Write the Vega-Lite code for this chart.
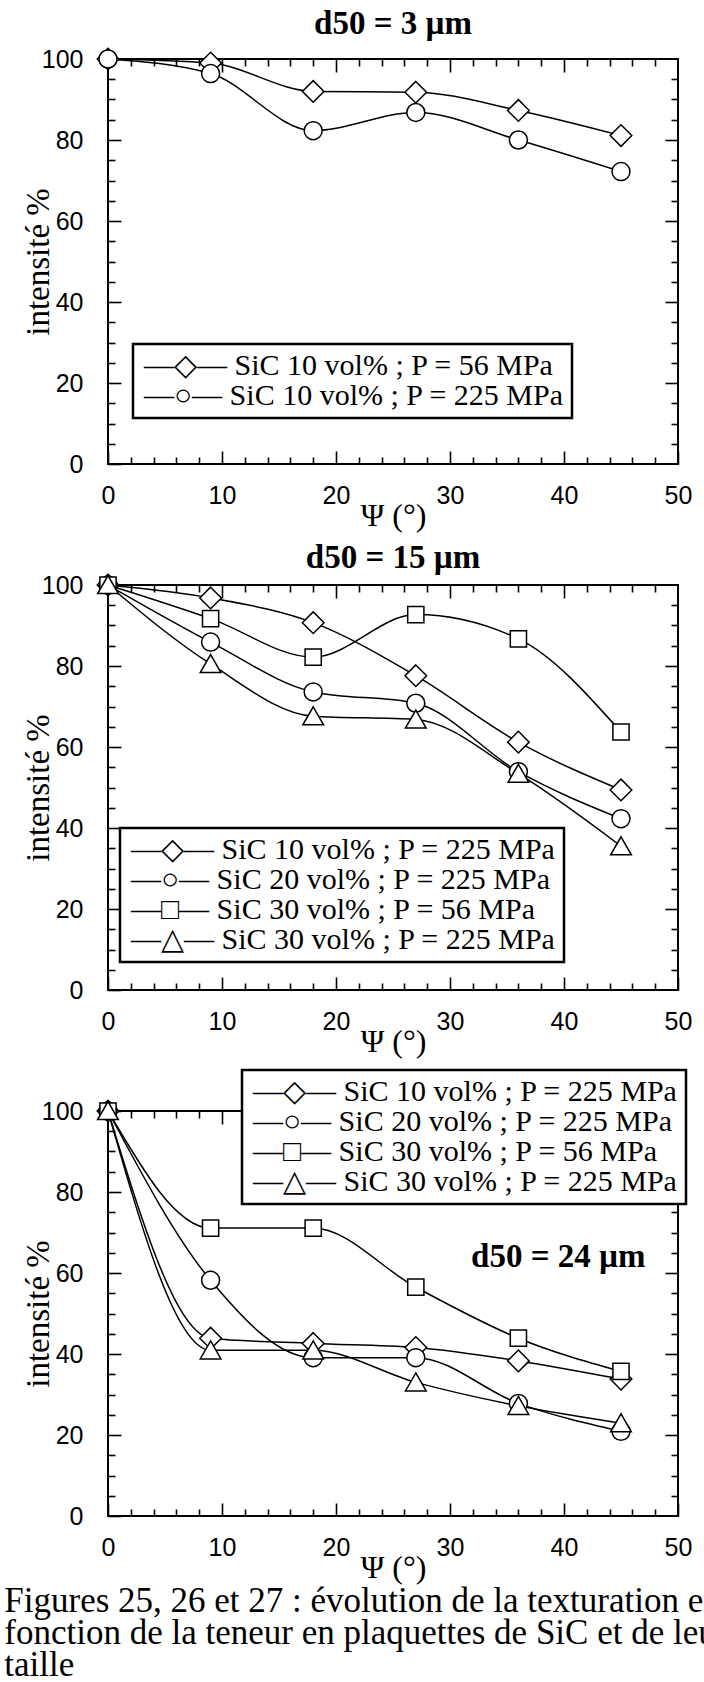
{
  "$schema": "https://vega.github.io/schema/vega-lite/v6.json",
  "background": "white",
  "padding": {"left": 4, "top": 7, "right": 0, "bottom": 0},
  "spacing": 121,
  "bounds": "flush",
  "resolve": {"scale": {"shape": "independent"}, "legend": {"shape": "independent"}},
  "datasets": {
    "p1": [
      {"psi": 0, "int": 100, "serie": "SiC 10 vol% ; P = 56 MPa"},
      {"psi": 9, "int": 99.0, "serie": "SiC 10 vol% ; P = 56 MPa"},
      {"psi": 18, "int": 92.0, "serie": "SiC 10 vol% ; P = 56 MPa"},
      {"psi": 27, "int": 91.8, "serie": "SiC 10 vol% ; P = 56 MPa"},
      {"psi": 36, "int": 87.3, "serie": "SiC 10 vol% ; P = 56 MPa"},
      {"psi": 45, "int": 81.1, "serie": "SiC 10 vol% ; P = 56 MPa"},
      {"psi": 0, "int": 100, "serie": "SiC 10 vol% ; P = 225 MPa"},
      {"psi": 9, "int": 96.4, "serie": "SiC 10 vol% ; P = 225 MPa"},
      {"psi": 18, "int": 82.3, "serie": "SiC 10 vol% ; P = 225 MPa"},
      {"psi": 27, "int": 86.8, "serie": "SiC 10 vol% ; P = 225 MPa"},
      {"psi": 36, "int": 80.0, "serie": "SiC 10 vol% ; P = 225 MPa"},
      {"psi": 45, "int": 72.2, "serie": "SiC 10 vol% ; P = 225 MPa"}
    ],
    "p2": [
      {"psi": 0, "int": 100, "serie": "SiC 10 vol% ; P = 225 MPa"},
      {"psi": 9, "int": 96.8, "serie": "SiC 10 vol% ; P = 225 MPa"},
      {"psi": 18, "int": 90.7, "serie": "SiC 10 vol% ; P = 225 MPa"},
      {"psi": 27, "int": 77.6, "serie": "SiC 10 vol% ; P = 225 MPa"},
      {"psi": 36, "int": 61.2, "serie": "SiC 10 vol% ; P = 225 MPa"},
      {"psi": 45, "int": 49.4, "serie": "SiC 10 vol% ; P = 225 MPa"},
      {"psi": 0, "int": 100, "serie": "SiC 20 vol% ; P = 225 MPa"},
      {"psi": 9, "int": 85.9, "serie": "SiC 20 vol% ; P = 225 MPa"},
      {"psi": 18, "int": 73.6, "serie": "SiC 20 vol% ; P = 225 MPa"},
      {"psi": 27, "int": 70.8, "serie": "SiC 20 vol% ; P = 225 MPa"},
      {"psi": 36, "int": 53.9, "serie": "SiC 20 vol% ; P = 225 MPa"},
      {"psi": 45, "int": 42.3, "serie": "SiC 20 vol% ; P = 225 MPa"},
      {"psi": 0, "int": 100, "serie": "SiC 30 vol% ; P = 56 MPa"},
      {"psi": 9, "int": 91.7, "serie": "SiC 30 vol% ; P = 56 MPa"},
      {"psi": 18, "int": 82.2, "serie": "SiC 30 vol% ; P = 56 MPa"},
      {"psi": 27, "int": 92.7, "serie": "SiC 30 vol% ; P = 56 MPa"},
      {"psi": 36, "int": 86.7, "serie": "SiC 30 vol% ; P = 56 MPa"},
      {"psi": 45, "int": 63.7, "serie": "SiC 30 vol% ; P = 56 MPa"},
      {"psi": 0, "int": 100, "serie": "SiC 30 vol% ; P = 225 MPa"},
      {"psi": 9, "int": 80.5, "serie": "SiC 30 vol% ; P = 225 MPa"},
      {"psi": 18, "int": 67.6, "serie": "SiC 30 vol% ; P = 225 MPa"},
      {"psi": 27, "int": 66.8, "serie": "SiC 30 vol% ; P = 225 MPa"},
      {"psi": 36, "int": 53.4, "serie": "SiC 30 vol% ; P = 225 MPa"},
      {"psi": 45, "int": 35.5, "serie": "SiC 30 vol% ; P = 225 MPa"}
    ],
    "p3": [
      {"psi": 0, "int": 100, "serie": "SiC 10 vol% ; P = 225 MPa"},
      {"psi": 9, "int": 43.9, "serie": "SiC 10 vol% ; P = 225 MPa"},
      {"psi": 18, "int": 42.6, "serie": "SiC 10 vol% ; P = 225 MPa"},
      {"psi": 27, "int": 41.6, "serie": "SiC 10 vol% ; P = 225 MPa"},
      {"psi": 36, "int": 38.3, "serie": "SiC 10 vol% ; P = 225 MPa"},
      {"psi": 45, "int": 33.8, "serie": "SiC 10 vol% ; P = 225 MPa"},
      {"psi": 0, "int": 100, "serie": "SiC 20 vol% ; P = 225 MPa"},
      {"psi": 9, "int": 58.2, "serie": "SiC 20 vol% ; P = 225 MPa"},
      {"psi": 18, "int": 39.1, "serie": "SiC 20 vol% ; P = 225 MPa"},
      {"psi": 27, "int": 39.1, "serie": "SiC 20 vol% ; P = 225 MPa"},
      {"psi": 36, "int": 27.8, "serie": "SiC 20 vol% ; P = 225 MPa"},
      {"psi": 45, "int": 20.9, "serie": "SiC 20 vol% ; P = 225 MPa"},
      {"psi": 0, "int": 100, "serie": "SiC 30 vol% ; P = 56 MPa"},
      {"psi": 9, "int": 71.1, "serie": "SiC 30 vol% ; P = 56 MPa"},
      {"psi": 18, "int": 71.1, "serie": "SiC 30 vol% ; P = 56 MPa"},
      {"psi": 27, "int": 56.5, "serie": "SiC 30 vol% ; P = 56 MPa"},
      {"psi": 36, "int": 43.9, "serie": "SiC 30 vol% ; P = 56 MPa"},
      {"psi": 45, "int": 35.7, "serie": "SiC 30 vol% ; P = 56 MPa"},
      {"psi": 0, "int": 100, "serie": "SiC 30 vol% ; P = 225 MPa"},
      {"psi": 9, "int": 40.9, "serie": "SiC 30 vol% ; P = 225 MPa"},
      {"psi": 18, "int": 40.9, "serie": "SiC 30 vol% ; P = 225 MPa"},
      {"psi": 27, "int": 33.0, "serie": "SiC 30 vol% ; P = 225 MPa"},
      {"psi": 36, "int": 27.2, "serie": "SiC 30 vol% ; P = 225 MPa"},
      {"psi": 45, "int": 22.9, "serie": "SiC 30 vol% ; P = 225 MPa"}
    ],
    "lab3": [{"label": "d50 = 24 µm"}]
  },
  "config": {
    "view": {"stroke": "black", "strokeWidth": 2},
    "axis": {
      "grid": false, "domain": false, "ticks": true, "zindex": 1,
      "labelFont": "Liberation Sans", "labelFontSize": 25, "labelColor": "black",
      "tickColor": "black", "tickWidth": 1.6, "tickOpacity": 1,
      "titleFont": "Liberation Serif", "titleFontWeight": "normal", "titleColor": "black",
      "labelFlush": false, "labelOverlap": false
    },
    "legend": {
      "orient": "none", "title": null,
      "labelFont": "Liberation Serif, DejaVu Sans", "labelFontSize": 30, "labelColor": "black", "labelLimit": 700,
      "strokeColor": "black", "strokeWidth": 2.5, "fillColor": "white",
      "padding": 7, "rowPadding": 0,
      "symbolSize": 324, "symbolOpacity": 0, "symbolOffset": 26, "labelOffset": -52
    },
    "title": {"font": "Liberation Serif", "fontWeight": "bold", "fontSize": 33, "color": "black"}
  },
  "title": {
    "text": ["Figures 25, 26 et 27 : évolution de la texturation en", "fonction de la teneur en plaquettes de SiC et de leur", "taille"],
    "orient": "bottom", "anchor": "start", "frame": "bounds",
    "font": "Liberation Serif", "fontWeight": "normal", "fontSize": 35, "lineHeight": 32,
    "offset": 0, "dx": -17
  },
  "vconcat": [
    {
      "width": 570, "height": 405,
      "title": {"text": "d50 = 3 µm", "offset": 4},
      "data": {"name": "p1"},
      "layer": [
        {
          "mark": {"type": "line", "interpolate": "monotone", "color": "black", "strokeWidth": 1.5},
          "encoding": {
            "x": {"field": "psi", "type": "quantitative", "scale": {"domain": [0, 50]},
              "axis": {"orient": "bottom", "values": [0, 10, 20, 30, 40, 50], "tickSize": -13, "labelPadding": 32, "title": "Ψ (°)", "titleFontSize": 32, "titlePadding": -8}},
            "y": {"field": "int", "type": "quantitative", "scale": {"domain": [0, 100]},
              "axis": {"orient": "left", "values": [0, 20, 40, 60, 80, 100], "tickSize": -13, "labelPadding": 38, "title": "intensité %", "titleFontSize": 33, "titlePadding": -14}},
            "detail": {"field": "serie"}
          }
        },
        {
          "mark": {"type": "point", "filled": true, "fill": "white", "stroke": "black", "strokeWidth": 1.5, "size": 324, "opacity": 1},
          "encoding": {
            "x": {"field": "psi", "type": "quantitative",
              "axis": {"orient": "bottom", "values": [2, 4, 6, 8, 12, 14, 16, 18, 22, 24, 26, 28, 32, 34, 36, 38, 42, 44, 46, 48], "tickSize": -7, "labels": false, "title": null}},
            "y": {"field": "int", "type": "quantitative",
              "axis": {"orient": "left", "values": [5, 10, 15, 25, 30, 35, 45, 50, 55, 65, 70, 75, 85, 90, 95], "tickSize": -7, "labels": false, "title": null}},
            "shape": {"field": "serie", "type": "nominal",
              "scale": {"domain": ["SiC 10 vol% ; P = 56 MPa", "SiC 10 vol% ; P = 225 MPa"],
                "range": ["M0,-1.2L1.2,0L0,1.2L-1.2,0Z", "circle"]},
              "legend": {"legendX": 25, "legendY": 285,
                "labelExpr": "(datum.label === 'SiC 10 vol% ; P = 56 MPa' ? '—◇— ' : '—○— ') + datum.label"}}
          }
        },
        {
          "mark": {"type": "line", "opacity": 0},
          "encoding": {
            "x": {"field": "psi", "type": "quantitative",
              "axis": {"orient": "top", "values": [10, 20, 30, 40], "tickSize": -13, "labels": false, "title": null}},
            "y": {"field": "int", "type": "quantitative",
              "axis": {"orient": "right", "values": [20, 40, 60, 80], "tickSize": -13, "labels": false, "title": null}},
            "detail": {"field": "serie"}
          }
        },
        {
          "mark": {"type": "line", "opacity": 0},
          "encoding": {
            "x": {"field": "psi", "type": "quantitative",
              "axis": {"orient": "top", "values": [2, 4, 6, 8, 12, 14, 16, 18, 22, 24, 26, 28, 32, 34, 36, 38, 42, 44, 46, 48], "tickSize": -7, "labels": false, "title": null}},
            "y": {"field": "int", "type": "quantitative",
              "axis": {"orient": "right", "values": [5, 10, 15, 25, 30, 35, 45, 50, 55, 65, 70, 75, 85, 90, 95], "tickSize": -7, "labels": false, "title": null}},
            "detail": {"field": "serie"}
          }
        }
      ],
      "resolve": {"axis": {"x": "independent", "y": "independent"}}
    },
    {
      "width": 570, "height": 405,
      "title": {"text": "d50 = 15 µm", "offset": -4},
      "data": {"name": "p2"},
      "layer": [
        {
          "mark": {"type": "line", "interpolate": "monotone", "color": "black", "strokeWidth": 1.5},
          "encoding": {
            "x": {"field": "psi", "type": "quantitative", "scale": {"domain": [0, 50]},
              "axis": {"orient": "bottom", "values": [0, 10, 20, 30, 40, 50], "tickSize": -13, "labelPadding": 32, "title": "Ψ (°)", "titleFontSize": 32, "titlePadding": -8}},
            "y": {"field": "int", "type": "quantitative", "scale": {"domain": [0, 100]},
              "axis": {"orient": "left", "values": [0, 20, 40, 60, 80, 100], "tickSize": -13, "labelPadding": 38, "title": "intensité %", "titleFontSize": 33, "titlePadding": -14}},
            "detail": {"field": "serie"}
          }
        },
        {
          "mark": {"type": "point", "filled": true, "fill": "white", "stroke": "black", "strokeWidth": 1.5, "size": 324, "opacity": 1},
          "encoding": {
            "x": {"field": "psi", "type": "quantitative",
              "axis": {"orient": "bottom", "values": [2, 4, 6, 8, 12, 14, 16, 18, 22, 24, 26, 28, 32, 34, 36, 38, 42, 44, 46, 48], "tickSize": -7, "labels": false, "title": null}},
            "y": {"field": "int", "type": "quantitative",
              "axis": {"orient": "left", "values": [5, 10, 15, 25, 30, 35, 45, 50, 55, 65, 70, 75, 85, 90, 95], "tickSize": -7, "labels": false, "title": null}},
            "shape": {"field": "serie", "type": "nominal",
              "scale": {"domain": ["SiC 10 vol% ; P = 225 MPa", "SiC 20 vol% ; P = 225 MPa", "SiC 30 vol% ; P = 56 MPa", "SiC 30 vol% ; P = 225 MPa"],
                "range": ["M0,-1.2L1.2,0L0,1.2L-1.2,0Z", "circle", "M-0.9,-0.9L0.9,-0.9L0.9,0.9L-0.9,0.9Z", "M0,-1.05L1.15,0.95L-1.15,0.95Z"]},
              "legend": {"legendX": 12, "legendY": 243,
                "labelExpr": "(datum.label === 'SiC 10 vol% ; P = 225 MPa' ? '—◇— ' : datum.label === 'SiC 20 vol% ; P = 225 MPa' ? '—○— ' : datum.label === 'SiC 30 vol% ; P = 56 MPa' ? '—□— ' : '—△— ') + datum.label"}}
          }
        },
        {
          "mark": {"type": "line", "opacity": 0},
          "encoding": {
            "x": {"field": "psi", "type": "quantitative",
              "axis": {"orient": "top", "values": [10, 20, 30, 40], "tickSize": -13, "labels": false, "title": null}},
            "y": {"field": "int", "type": "quantitative",
              "axis": {"orient": "right", "values": [20, 40, 60, 80], "tickSize": -13, "labels": false, "title": null}},
            "detail": {"field": "serie"}
          }
        },
        {
          "mark": {"type": "line", "opacity": 0},
          "encoding": {
            "x": {"field": "psi", "type": "quantitative",
              "axis": {"orient": "top", "values": [2, 4, 6, 8, 12, 14, 16, 18, 22, 24, 26, 28, 32, 34, 36, 38, 42, 44, 46, 48], "tickSize": -7, "labels": false, "title": null}},
            "y": {"field": "int", "type": "quantitative",
              "axis": {"orient": "right", "values": [5, 10, 15, 25, 30, 35, 45, 50, 55, 65, 70, 75, 85, 90, 95], "tickSize": -7, "labels": false, "title": null}},
            "detail": {"field": "serie"}
          }
        }
      ],
      "resolve": {"axis": {"x": "independent", "y": "independent"}}
    },
    {
      "width": 570, "height": 405,
      "data": {"name": "p3"},
      "layer": [
        {
          "mark": {"type": "line", "interpolate": "monotone", "color": "black", "strokeWidth": 1.5},
          "encoding": {
            "x": {"field": "psi", "type": "quantitative", "scale": {"domain": [0, 50]},
              "axis": {"orient": "bottom", "values": [0, 10, 20, 30, 40, 50], "tickSize": -13, "labelPadding": 32, "title": "Ψ (°)", "titleFontSize": 32, "titlePadding": -8}},
            "y": {"field": "int", "type": "quantitative", "scale": {"domain": [0, 100]},
              "axis": {"orient": "left", "values": [0, 20, 40, 60, 80, 100], "tickSize": -13, "labelPadding": 38, "title": "intensité %", "titleFontSize": 33, "titlePadding": -14}},
            "detail": {"field": "serie"}
          }
        },
        {
          "mark": {"type": "point", "filled": true, "fill": "white", "stroke": "black", "strokeWidth": 1.5, "size": 324, "opacity": 1},
          "encoding": {
            "x": {"field": "psi", "type": "quantitative",
              "axis": {"orient": "bottom", "values": [2, 4, 6, 8, 12, 14, 16, 18, 22, 24, 26, 28, 32, 34, 36, 38, 42, 44, 46, 48], "tickSize": -7, "labels": false, "title": null}},
            "y": {"field": "int", "type": "quantitative",
              "axis": {"orient": "left", "values": [5, 10, 15, 25, 30, 35, 45, 50, 55, 65, 70, 75, 85, 90, 95], "tickSize": -7, "labels": false, "title": null}},
            "shape": {"field": "serie", "type": "nominal",
              "scale": {"domain": ["SiC 10 vol% ; P = 225 MPa", "SiC 20 vol% ; P = 225 MPa", "SiC 30 vol% ; P = 56 MPa", "SiC 30 vol% ; P = 225 MPa"],
                "range": ["M0,-1.2L1.2,0L0,1.2L-1.2,0Z", "circle", "M-0.9,-0.9L0.9,-0.9L0.9,0.9L-0.9,0.9Z", "M0,-1.05L1.15,0.95L-1.15,0.95Z"]},
              "legend": {"legendX": 134, "legendY": -41,
                "labelExpr": "(datum.label === 'SiC 10 vol% ; P = 225 MPa' ? '—◇— ' : datum.label === 'SiC 20 vol% ; P = 225 MPa' ? '—○— ' : datum.label === 'SiC 30 vol% ; P = 56 MPa' ? '—□— ' : '—△— ') + datum.label"}}
          }
        },
        {
          "mark": {"type": "line", "opacity": 0},
          "encoding": {
            "x": {"field": "psi", "type": "quantitative",
              "axis": {"orient": "top", "values": [10, 20, 30, 40], "tickSize": -13, "labels": false, "title": null}},
            "y": {"field": "int", "type": "quantitative",
              "axis": {"orient": "right", "values": [20, 40, 60, 80], "tickSize": -13, "labels": false, "title": null}},
            "detail": {"field": "serie"}
          }
        },
        {
          "mark": {"type": "line", "opacity": 0},
          "encoding": {
            "x": {"field": "psi", "type": "quantitative",
              "axis": {"orient": "top", "values": [2, 4, 6, 8, 12, 14, 16, 18, 22, 24, 26, 28, 32, 34, 36, 38, 42, 44, 46, 48], "tickSize": -7, "labels": false, "title": null}},
            "y": {"field": "int", "type": "quantitative",
              "axis": {"orient": "right", "values": [5, 10, 15, 25, 30, 35, 45, 50, 55, 65, 70, 75, 85, 90, 95], "tickSize": -7, "labels": false, "title": null}},
            "detail": {"field": "serie"}
          }
        },
        {
          "data": {"name": "lab3"},
          "mark": {"type": "text", "font": "Liberation Serif", "fontWeight": "bold", "fontSize": 33, "align": "center", "baseline": "middle", "color": "black"},
          "encoding": {
            "x": {"datum": 39.5, "type": "quantitative", "axis": null},
            "y": {"datum": 64, "type": "quantitative", "axis": null},
            "text": {"field": "label"}
          }
        }
      ],
      "resolve": {"axis": {"x": "independent", "y": "independent"}}
    }
  ]
}
